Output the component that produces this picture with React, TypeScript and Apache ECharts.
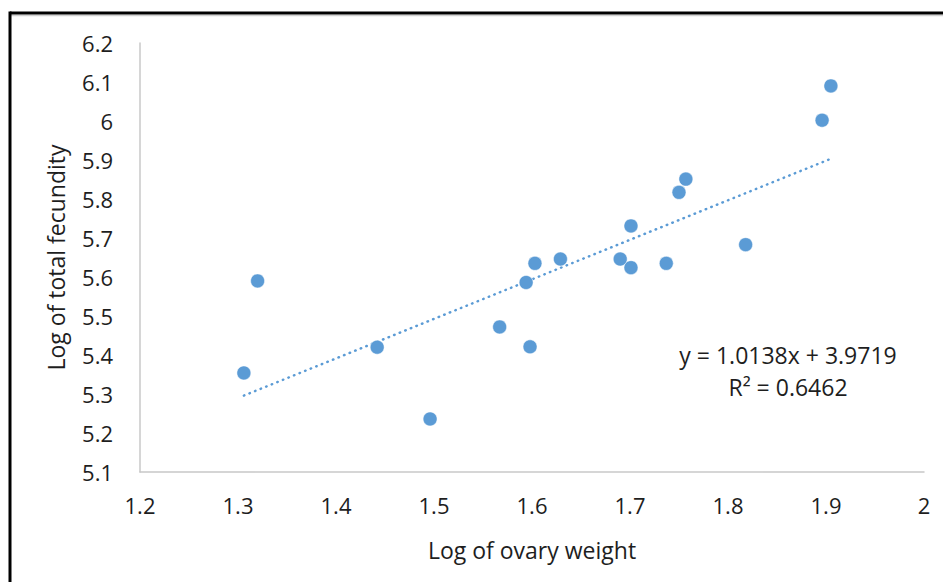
import React, { useEffect, useRef } from "react";
import * as echarts from "echarts";

const ovaryWeight = [1.306, 1.32, 1.442, 1.496, 1.567, 1.594, 1.598, 1.603, 1.629, 1.69, 1.701, 1.701, 1.737, 1.75, 1.757, 1.818, 1.896, 1.905];
const totalFecundity = [5.354, 5.59, 5.42, 5.236, 5.472, 5.586, 5.421, 5.635, 5.646, 5.646, 5.731, 5.624, 5.635, 5.817, 5.851, 5.683, 6.002, 6.09];
const trendSlope = 1.0138;
const trendIntercept = 3.9719;
const equationText = "y = 1.0138x + 3.9719";
const rSquaredText = "R² = 0.6462";
const xAxisTitle = "Log of ovary weight";
const yAxisTitle = "Log of total fecundity";
const xRange = [1.2, 2];
const yRange = [5.1, 6.2];
const tickStep = 0.1;

const FONT = "'Open Sans', sans-serif";
const BLUE = "#5B9BD5";
const INK = "#1E1E1E";

export default function App() {
  const ref = useRef<HTMLDivElement>(null);
  useEffect(() => {
    if (!ref.current) return;
    const chart = echarts.init(ref.current, undefined, { renderer: "svg" });
    const points = ovaryWeight.map((x, i) => [x, totalFecundity[i]]);
    const xMin = Math.min(...ovaryWeight);
    const xMax = Math.max(...ovaryWeight);
    const trend = [
      [xMin, trendSlope * xMin + trendIntercept],
      [xMax, trendSlope * xMax + trendIntercept],
    ];
    chart.setOption({
      animation: false,
      backgroundColor: "#ffffff",
      textStyle: { fontFamily: FONT },
      grid: { left: 140, right: 19, top: 43, bottom: 110, containLabel: false },
      xAxis: {
        type: "value",
        min: xRange[0],
        max: xRange[1],
        interval: tickStep,
        name: xAxisTitle,
        nameLocation: "middle",
        nameGap: 66,
        nameTextStyle: { fontFamily: FONT, fontSize: 23, color: INK },
        axisLine: { show: true, lineStyle: { color: "#C8C8C8", width: 1.5 } },
        axisTick: { show: false },
        splitLine: { show: false },
        axisLabel: {
          margin: 22,
          fontFamily: FONT,
          fontSize: 22,
          color: INK,
          formatter: (v: number) => String(+v.toFixed(1)),
        },
      },
      yAxis: {
        type: "value",
        min: yRange[0],
        max: yRange[1],
        interval: tickStep,
        name: yAxisTitle,
        nameLocation: "middle",
        nameGap: 73,
        nameRotate: 90,
        nameTextStyle: { fontFamily: FONT, fontSize: 23, color: INK },
        axisLine: { show: true, lineStyle: { color: "#C8C8C8", width: 1.5 } },
        axisTick: { show: false },
        splitLine: { show: false },
        axisLabel: {
          margin: 27,
          fontFamily: FONT,
          fontSize: 22,
          color: INK,
          formatter: (v: number) => String(+v.toFixed(1)),
        },
      },
      series: [
        {
          type: "line",
          data: trend,
          showSymbol: false,
          symbol: "none",
          lineStyle: { color: BLUE, width: 2.5, type: [0.5, 5.5], cap: "round" },
          z: 1,
        },
        {
          type: "scatter",
          data: points,
          symbol: "circle",
          symbolSize: 14,
          itemStyle: { color: BLUE, borderColor: "#ffffff", borderWidth: 0.5, opacity: 1 },
          z: 2,
        },
      ],
      graphic: [
        {
          type: "text",
          x: 788,
          y: 355,
          style: { text: equationText, font: `23px ${FONT}`, fill: INK, align: "center", verticalAlign: "middle" },
        },
        {
          type: "text",
          x: 788,
          y: 387,
          style: { text: rSquaredText, font: `23px ${FONT}`, fill: INK, align: "center", verticalAlign: "middle" },
        },
        { type: "line", shape: { x1: 10, y1: 15.5, x2: 943, y2: 15.5 }, style: { stroke: "#D0D0D0", lineWidth: 1.5 } },
        { type: "line", shape: { x1: 10, y1: 13, x2: 943, y2: 13 }, style: { stroke: "#000000", lineWidth: 3 } },
        { type: "line", shape: { x1: 10, y1: 11.5, x2: 10, y2: 582 }, style: { stroke: "#000000", lineWidth: 3 } },
      ],
    });
    return () => chart.dispose();
  }, []);
  return <div ref={ref} style={{ position: "fixed", left: 0, top: 0, width: 943, height: 582 }} />;
}
